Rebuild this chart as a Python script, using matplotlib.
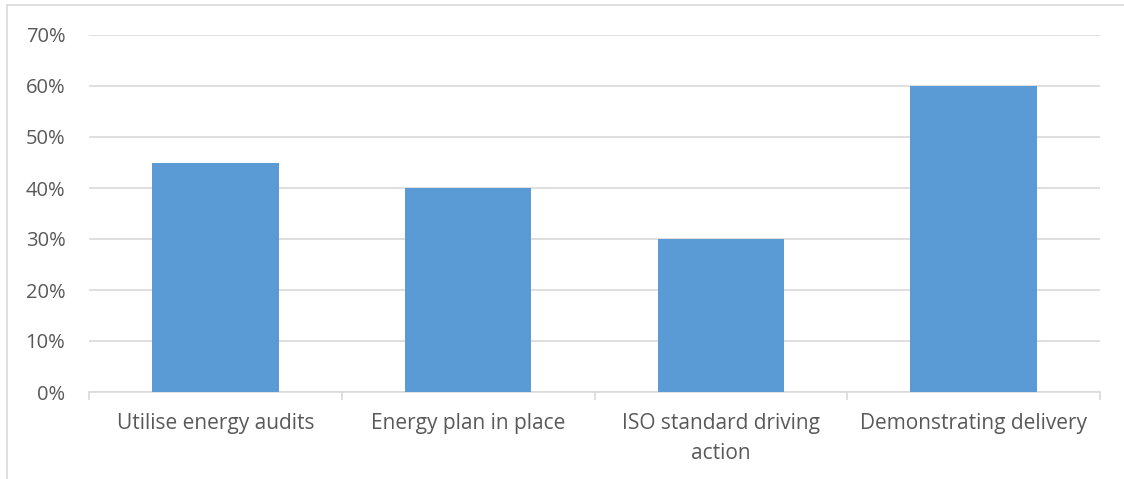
import matplotlib.pyplot as plt
from matplotlib.patches import Rectangle
from matplotlib.ticker import PercentFormatter, MultipleLocator

categories = ['Utilise energy audits', 'Energy plan in place',
              'ISO standard driving\naction', 'Demonstrating delivery']
values = [0.45, 0.40, 0.30, 0.60]

W, H = 1124, 479
fig = plt.figure(figsize=(W / 100, H / 100), dpi=100)
plt.rcParams['font.family'] = ['Open Sans', 'DejaVu Sans']

# chart area frame (only top and left edges fall inside the image)
fig.patches.append(Rectangle((7 / W, -0.1), 1.2, 1 - 5 / H + 0.1,
                             transform=fig.transFigure, fill=False,
                             edgecolor='#d9d9d9', linewidth=1.2))

ax = fig.add_axes([89 / W, 1 - 392 / H, (1100 - 89) / W, (392 - 35) / H])
x = range(len(categories))
ax.bar(x, values, width=0.5, color='#5b9bd5', zorder=3)

ax.set_xlim(-0.5, len(categories) - 0.5)
ax.set_ylim(0, 0.70)
ax.yaxis.set_major_locator(MultipleLocator(0.10))
ax.yaxis.set_major_formatter(PercentFormatter(1.0, decimals=0))
ax.grid(axis='y', color='#d9d9d9', linewidth=1.2, zorder=0)

for side in ['top', 'right', 'left']:
    ax.spines[side].set_visible(False)
ax.spines['bottom'].set_color('#d9d9d9')
ax.spines['bottom'].set_linewidth(1.2)

ax.set_xticks(x)
ax.set_xticklabels(categories, fontsize=15, color='#595959', linespacing=1.6)
ax.tick_params(axis='x', length=0, pad=15)
ax.set_xticks([i + 0.5 for i in range(-1, len(categories))], minor=True)
ax.tick_params(axis='x', which='minor', length=6, color='#d9d9d9', width=1.2)
ax.tick_params(axis='y', length=0, labelsize=14.5, labelcolor='#595959', pad=17)

fig.savefig('out.png', dpi=100)
